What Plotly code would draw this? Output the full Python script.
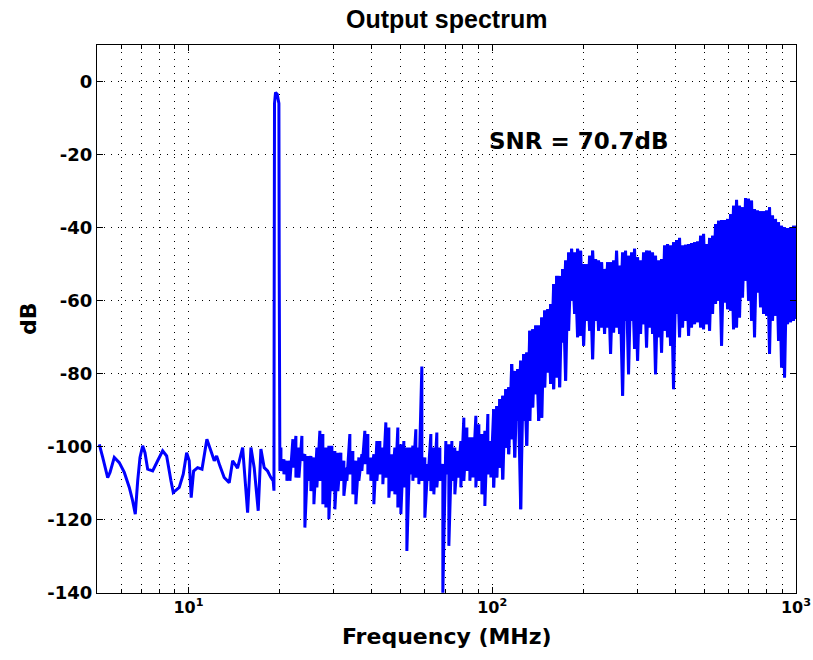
import math
import plotly.graph_objects as go

# ---------------- data ----------------
# low-frequency noise floor, 5 .. 19 MHz
freq_lo = [5.088, 5.221, 5.422, 5.518, 5.700, 5.921, 6.149, 6.387, 6.552, 6.683,
           6.806, 6.926, 7.068, 7.193, 7.341, 7.624, 7.918, 8.224, 8.477, 8.758,
           8.913, 9.326, 9.614, 9.865, 10.06, 10.21, 10.40, 10.72, 11.08, 11.50,
           11.86, 12.16, 12.38, 12.69, 13.11, 13.62, 13.98, 14.51, 15.08, 15.66,
           16.06, 16.46, 16.97, 17.32, 17.76, 18.22, 18.68, 19.01]
db_lo = [-99.3, -102.9, -108.4, -107.0, -102.9, -104.3, -107.0, -111.1, -114.8, -118.4,
         -109.3, -102.9, -99.7, -101.6, -106.1, -106.6, -103.8, -101.1, -102.5, -109.3,
         -112.5, -111.1, -107.5, -101.6, -103.8, -113.9, -106.6, -105.7, -106.1, -97.9,
         -101.1, -103.8, -102.5, -105.2, -108.4, -109.8, -103.8, -105.8, -100.2, -118.0,
         -100.2, -105.7, -117.5, -100.6, -105.7, -106.6, -108.4, -109.3]

# signal tone near 19.6 MHz
freq_tone = [19.12, 19.15, 19.20, 19.35, 19.60, 19.85, 19.90, 20.00]
db_tone = [-112.0, -62.0, -6.0, -3.0, -3.5, -6.0, -52.7, -106.6]

# in-band noise 20 .. 100 MHz (top and bottom of each bin group)
freq_mid = [20.16, 20.62, 21.09, 21.58, 22.07, 22.58, 23.10, 23.63, 24.17, 24.73,
            25.30, 25.88, 26.47, 27.08, 27.70, 28.34, 28.99, 29.66, 30.34, 31.04,
            31.75, 32.48, 33.23, 33.99, 34.77, 35.57, 36.39, 37.23, 38.08, 38.96,
            39.85, 40.77, 41.71, 42.67, 43.65, 44.65, 45.68, 46.73, 47.80, 48.90,
            50.03, 51.18, 52.36, 53.56, 54.79, 56.05, 57.34, 58.66, 60.01, 61.39,
            62.80, 64.25, 65.72, 67.24, 68.78, 70.36, 71.98, 73.64, 75.33, 77.07,
            78.84, 80.65, 82.51, 84.41, 86.35, 88.34, 90.37, 92.45, 94.57, 96.75,
            98.98]
db_mid_top = [-100.2, -103.4, -103.8, -103.8, -97.9, -97.0, -100.2, -97.0, -102.0, -102.5,
              -102.5, -102.9, -100.2, -95.6, -96.5, -100.2, -99.7, -99.7, -101.1, -101.6,
              -101.6, -103.8, -105.7, -96.5, -101.1, -103.8, -102.9, -102.0, -95.6, -96.5,
              -102.9, -102.0, -98.4, -98.4, -100.2, -93.3, -94.7, -102.0, -100.2, -94.7,
              -99.3, -98.4, -100.2, -100.2, -99.7, -95.2, -100.2, -78.0, -102.9, -104.7,
              -96.5, -100.2, -96.1, -100.2, -104.7, -98.4, -99.3, -98.4, -100.2, -101.1,
              -98.4, -92.0, -94.7, -97.4, -97.4, -91.5, -93.8, -96.5, -95.6, -91.0,
              -98.4]
db_mid_bottom = [-106.6, -107.5, -109.3, -109.3, -105.7, -108.4, -108.4, -103.8, -122.1, -109.3,
                 -112.1, -115.7, -111.1, -109.3, -115.7, -116.6, -119.8, -112.1, -117.1, -112.1,
                 -109.3, -113.4, -109.3, -107.5, -113.0, -115.7, -109.3, -106.6, -104.7, -107.5,
                 -109.3, -115.7, -109.3, -107.5, -110.2, -108.4, -113.9, -112.1, -113.0, -116.6,
                 -118.4, -111.1, -128.5, -107.5, -109.3, -108.4, -110.2, -109.3, -119.4, -109.3,
                 -112.1, -113.0, -111.1, -109.3, -139.9, -107.5, -127.1, -109.3, -113.0, -108.4,
                 -111.1, -109.3, -106.6, -109.3, -108.4, -111.1, -109.3, -113.0, -116.2, -107.5,
                 -108.4]

# shaped noise band 100 .. 1000 MHz (top and bottom of each dense bin group)
freq_band = [101.1, 103.5, 105.9, 108.3, 110.8, 113.3, 115.9, 118.6, 121.3, 124.1,
             126.9, 129.9, 132.9, 135.9, 139.0, 142.2, 145.5, 148.8, 152.3, 155.7,
             159.3, 163.0,
             166.7, 170.5, 174.4, 178.4, 182.5, 186.7, 191.0, 195.4, 199.9, 204.5,
             209.2, 214.0, 218.9, 223.9, 229.1, 234.3, 239.7, 245.2, 250.9, 256.6,
             262.5, 268.6, 274.7, 281.0, 287.5, 294.1, 300.9, 307.8, 314.9, 322.1,
             329.5, 337.1, 344.8, 352.8, 360.9, 369.2, 377.7, 386.4, 395.2, 404.3,
             413.6, 423.2, 432.9, 442.9, 453.0, 463.5, 474.1, 485.0, 496.2, 507.6,
             519.3, 531.2, 543.4, 555.9, 568.7, 581.8, 595.2, 608.8, 622.8, 637.2,
             651.8, 666.8, 682.1, 697.8, 713.9, 730.3, 747.1, 764.3, 781.9, 799.8,
             818.2, 837.1, 856.3, 876.0, 896.2, 916.8, 937.9, 959.5, 981.5, 996.0]
db_band_top = [-89.7, -88.8, -86.9, -86.0, -84.2, -83.7, -77.3, -79.2, -78.7, -76.4,
               -74.6, -74.2, -68.2, -67.8, -66.8, -66.8, -64.6, -62.7, -62.3, -60.9,
               -55.4, -53.2,
               -53.2, -51.3, -49.0, -46.8, -45.8, -46.8, -45.8, -46.3, -50.0, -50.0,
               -47.7, -46.3, -48.6, -49.0, -49.5, -51.3, -49.5, -49.5, -49.0, -46.3,
               -50.4, -46.8, -46.3, -47.7, -46.8, -45.8, -48.1, -49.0, -46.8, -46.3,
               -46.3, -46.8, -47.7, -49.0, -48.6, -44.9, -44.5, -44.9, -44.0, -43.4,
               -42.8, -44.9, -44.7, -44.5, -44.2, -44.0, -43.8, -42.2, -41.7, -44.5,
               -42.8, -42.2, -39.0, -38.1, -37.9, -37.9, -37.6, -36.3, -34.0, -32.4,
               -34.0, -34.4, -31.9, -32.1, -32.6, -34.9, -35.3, -35.5, -35.5, -35.3,
               -34.4, -36.7, -37.6, -38.5, -39.5, -39.9, -40.1, -39.9, -39.5, -39.5]
db_band_bottom = [-111.1, -108.4, -105.7, -108.9, -100.2, -102.0, -97.9, -102.9, -92.9, -117.1,
                  -92.9, -99.7, -92.9, -89.2, -85.6, -92.9, -92.0, -83.7, -79.6, -82.8,
                  -84.2, -81.0,
                  -83.7, -71.4, -81.9, -68.2, -60.0, -63.6, -70.0, -69.6, -72.3, -65.5,
                  -68.2, -76.0, -65.5, -68.2, -67.3, -69.1, -67.3, -74.6, -68.7, -67.3,
                  -69.1, -86.0, -65.5, -80.1, -65.5, -73.2, -76.4, -69.1, -66.4, -72.8,
                  -67.3, -69.1, -80.1, -70.0, -74.2, -68.2, -70.0, -72.3, -84.2, -63.6,
                  -70.0, -67.3, -65.5, -69.6, -67.3, -66.4, -65.9, -67.3, -67.8, -66.4,
                  -68.2, -63.6, -60.9, -60.0, -72.3, -60.5, -62.3, -62.7, -67.8, -67.3,
                  -64.6, -59.1, -54.5, -60.0, -65.5, -70.0, -57.7, -61.8, -63.6, -64.1,
                  -74.6, -65.5, -64.1, -71.0, -78.3, -81.0, -66.4, -65.9, -65.5, -65.0]

x_major = [10, 100, 1000]
x_major_text = ["10<sup>1</sup>", "10<sup>2</sup>", "10<sup>3</sup>"]
x_minor = [6, 7, 8, 9, 20, 30, 40, 50, 60, 70, 80, 90,
           200, 300, 400, 500, 600, 700, 800, 900]
y_ticks = [-140, -120, -100, -80, -60, -40, -20, 0]
snr_text = "SNR = 70.7dB"
snr_freq = 100
snr_db = -16.2

# ---------------- build the traces ----------------
xs = freq_lo + freq_tone
ys = db_lo + db_tone
for f, h, l in zip(freq_mid, db_mid_top, db_mid_bottom):
    xs += [f, f]
    ys += [h, l]
bx2, by2 = [], []
for f, h, l in zip(freq_band, db_band_top, db_band_bottom):
    xs += [f, f]
    ys += [h, l]
    bx2 += [f, f]
    by2 += [l, h]

line = dict(color="#0000ff", width=3, simplify=False)
fig = go.Figure()
fig.add_trace(go.Scatter(x=xs, y=ys, mode="lines", line=line, hoverinfo="skip"))
fig.add_trace(go.Scatter(x=bx2, y=by2, mode="lines", line=line, hoverinfo="skip"))

dot = "1px,6px"
xtickfont = dict(family="DejaVu Sans", size=16, color="black", weight="bold")
ytickfont = dict(family="DejaVu Sans", size=18, color="black", weight="bold")
lab_font = dict(family="DejaVu Sans", size=22, color="black", weight="bold")

fig.update_xaxes(type="log", range=[math.log10(5), 3], automargin=False,
                 tickmode="array", tickvals=x_major, ticktext=x_major_text,
                 ticks="inside", ticklen=6, tickcolor="black", tickwidth=1,
                 showline=True, linecolor="black", linewidth=1, mirror="ticks",
                 showgrid=True, gridcolor="black", griddash=dot, gridwidth=1,
                 zeroline=False, tickfont=xtickfont,
                 minor=dict(tickmode="array", tickvals=x_minor, ticks="inside",
                            ticklen=4, tickcolor="black", showgrid=True,
                            gridcolor="black", griddash=dot, gridwidth=1))
fig.update_yaxes(range=[-140, 10], tickmode="array", tickvals=y_ticks,
                 ticktext=[str(v) for v in y_ticks], automargin=False,
                 ticks="inside", ticklen=6, tickcolor="black", tickwidth=1,
                 showline=True, linecolor="black", linewidth=1, mirror="ticks",
                 showgrid=True, gridcolor="black", griddash=dot, gridwidth=1,
                 zeroline=False, tickfont=ytickfont)

fig.update_layout(
    width=813, height=660, autosize=False,
    margin=dict(l=97, r=17, t=45, b=67),
    plot_bgcolor="white", paper_bgcolor="white", showlegend=False,
    annotations=[
        dict(text="Output spectrum", xref="paper", yref="paper", x=0.5, y=1,
             yshift=26, showarrow=False, xanchor="center", yanchor="middle",
             font=dict(family="Liberation Sans", size=25, color="black", weight="bold")),
        dict(text="Frequency (MHz)", xref="paper", yref="paper", x=0.5, y=0,
             yshift=-43, showarrow=False, xanchor="center", yanchor="middle",
             font=lab_font),
        dict(text="dB", xref="paper", yref="paper", x=0, y=0.5, xshift=-69,
             textangle=-90, showarrow=False, xanchor="center", yanchor="middle",
             font=lab_font),
        dict(text=snr_text, xref="x", yref="y", x=math.log10(snr_freq), y=snr_db,
             xshift=-5, showarrow=False, xanchor="left", yanchor="middle",
             font=dict(family="DejaVu Sans", size=23, color="black", weight="bold")),
    ],
)

fig.write_html("out.html")
